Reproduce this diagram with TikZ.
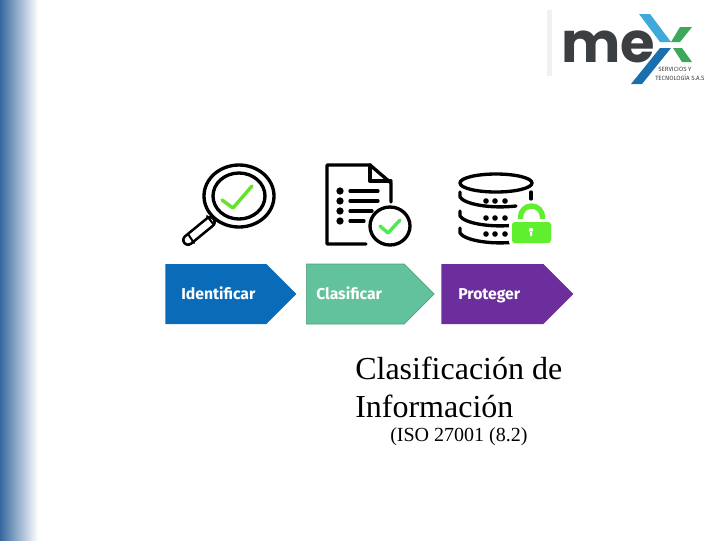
\documentclass[tikz,border=0pt]{standalone}
\usepackage{fontspec}
\setmainfont{Liberation Serif}
\newfontfamily\stepfont{Fira Sans}
\newfontfamily\logofont{Poppins}
\usetikzlibrary{shapes.symbols}
\definecolor{bandblue}{HTML}{36689F}
\definecolor{stepblue}{HTML}{0A6CB8}
\definecolor{stepgreen}{HTML}{62C29B}
\definecolor{steppurple}{HTML}{6B2E9C}
\definecolor{checkgreen}{HTML}{66E22A}
\definecolor{lockgreen}{HTML}{5FEF2E}
\definecolor{logogray}{HTML}{3C3F42}
\definecolor{logosky}{HTML}{3FA9DB}
\definecolor{logoblue}{HTML}{1A6FAE}
\definecolor{logogreen}{HTML}{3BA85A}
\begin{document}
\begin{tikzpicture}[x=0.75pt,y=-0.75pt]
  \tikzset{ stepbox/.style={signal,signal to=east,signal pointer angle=90,anchor=west,inner sep=0pt,minimum height=45pt},
    steptext/.style={anchor=base west,inner sep=0pt,white,font=\stepfont\fontsize{11.8}{14}\selectfont\bfseries},
    icon/.style={line width=2.5pt,black,line cap=round,line join=round},
    check/.style={line width=2.6pt,line cap=round,line join=round},
    dot/.style={circle,fill=black,inner sep=0pt,minimum size=5.5pt},
    title/.style={anchor=west,inner sep=0pt,font=\fontsize{24}{28}\selectfont},
    logotext/.style={anchor=west,inner sep=0pt,logogray,font=\stepfont\fontsize{4.6}{5}\selectfont},
  }
  \useasboundingbox (0,0) rectangle (720,540);

  % the band on the left
  \shade[left color=bandblue,right color=white] (0,0) rectangle (38,540);

  % the logo
  \fill[black!6] (547,10) rectangle (552,76);
  \node[anchor=base west,inner sep=0pt,logogray,font=\logofont\fontsize{42}{42}\selectfont\bfseries] (me) at (561,62) {me};
  \fill[logosky] (639,14) -- (650,14) -- (671,42) -- (660,42) -- cycle;
  \fill[logoblue] (660,48) -- (671,48) -- (642,84) -- (631,84) -- cycle;
  \fill[logogreen] (680,27) -- (692,27) -- (680,42) -- (671,42) -- cycle;
  \fill[logogreen] (673,48) -- (682,48) -- (692,62) -- (682,62) -- cycle;
  \node[logotext] (servicios) at (658,69) {SERVICIOS Y};
  \node[logotext] (tecnologia) at (655,78) {TECNOLOGÍA S.A.S};

  % the magnifier
  \draw[icon] (239,196) ellipse [x radius=35,y radius=31];
  \draw[icon] (239,196) ellipse [x radius=26,y radius=23];
  \draw[icon,line width=9pt] (210,222) -- (188,240);
  \draw[white,line width=5pt,line cap=round] (210,222) -- (188,240);
  \draw[icon,line width=1.5pt] (207,216) -- (214,225);
  \draw[icon,line width=1.5pt] (188,234) -- (194,243);
  \draw[check,checkgreen] (222,200) -- (233,208) -- (252,186);

  % the document
  \draw[icon] (366,244) -- (327,244) -- (327,165) -- (370,165) -- (391,183) -- (391,202);
  \draw[icon] (370,165) -- (370,181) -- (391,181);
  \foreach \y/\xend in {191/378,201/378,211/372,221/364} {
    \node[dot] (b\y) at (340,\y) {};
    \draw[icon] (350,\y) -- (\xend,\y);
  }
  \draw[icon,fill=white] (390,226) ellipse [x radius=20,y radius=19];
  \draw[check,checkgreen!80!cyan] (380,226) -- (388,233) -- (400,220);

  % the database
  \draw[icon] (496,183) ellipse [x radius=36,y radius=9];
  \foreach \y in {192,211,228} {
    \draw[icon] (460,\y) -- (460,\y+5) .. controls (464,\y+12) and (490,\y+17) .. (516,\y+14);
  }
  \draw[icon] (531,192) -- (531,199);
  \foreach \y in {201,218,234} {
    \foreach \x in {486,495,505} {
      \node[dot,minimum size=4.2pt] (d\x\y) at (\x,\y) {};
    }
  }

  % the lock
  \draw[white,line width=7pt] (520.5,224) -- (520.5,217) arc (180:360:11 and 11) -- (542.5,224);
  \draw[lockgreen,line width=4pt] (520.5,224) -- (520.5,217) arc (180:360:11 and 11) -- (542.5,224);
  \fill[white,rounded corners=3pt] (509,219) rectangle (554,246);
  \fill[lockgreen,rounded corners=2pt] (512,222) rectangle (551,243);
  \fill[white] (531,230) circle (2.2) (530,231) rectangle (532,236);

  % the steps
  \node[stepbox,fill=stepblue,minimum width=98.25pt] (identificar) at (165,294) {};
  \node[stepbox,fill=stepgreen,draw=stepgreen!80!black,line width=0.4pt,minimum width=96pt] (clasificar) at (306,294) {};
  \node[stepbox,fill=steppurple,minimum width=99pt] (proteger) at (441,294) {};
  \node[steptext] (t1) at (181,299) {Identificar};
  \node[steptext] (t2) at (316,299) {Clasificar};
  \node[steptext] (t3) at (458,299) {Proteger};

  % the title
  \node[title] (line1) at (355,368) {Clasificación de};
  \node[title] (line2) at (355,406) {Información};
  \node[anchor=west,inner sep=0pt,font=\fontsize{15}{18}\selectfont] (line3) at (390,437) {(ISO 27001 (8.2)};
\end{tikzpicture}
\end{document}
